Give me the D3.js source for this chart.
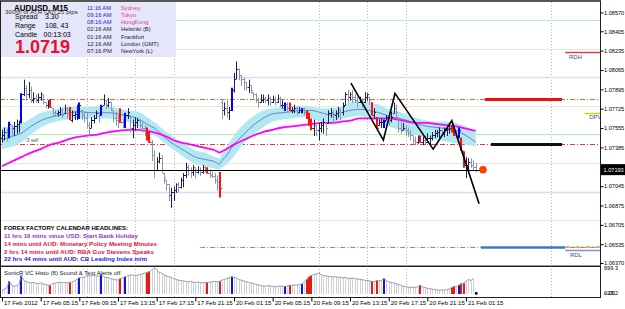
<!DOCTYPE html>
<html><head><meta charset="utf-8">
<script src="https://cdn.jsdelivr.net/npm/d3@7"></script>
<style>
html,body{margin:0;padding:0;background:#fff;overflow:hidden}
svg{display:block;font-family:"Liberation Sans",Arial,sans-serif}
</style></head><body>
<svg id="c" width="625" height="309"></svg>
<script>
// ---------- DATA ----------
const symbolTitle = "AUDUSD, M15";
const highs = [
1.0754,1.0756,1.0755,1.0761,1.0758,1.0761,1.0763,1.0762,1.0786,1.0798,
1.0793,1.0796,1.0792,1.0787,1.0785,1.0786,1.0787,1.0785,1.0778,1.0780,
1.0781,1.0773,1.0771,1.0771,1.0774,1.0773,1.0776,1.0774,1.0774,1.0771,
1.0770,1.0776,1.0778,1.0771,1.0770,1.0769,1.0761,1.0765,1.0767,1.0771,
1.0769,1.0776,1.0785,1.0780,1.0782,1.0778,1.0771,1.0770,1.0767,1.0773,
1.0764,1.0769,1.0773,1.0767,1.0763,1.0765,1.0764,1.0763,1.0761,1.0758,
1.0756,1.0752,1.0745,1.0736,1.0730,1.0734,1.0732,1.0716,1.0710,1.0706,
1.0703,1.0704,1.0707,1.0708,1.0712,1.0716,1.0725,1.0723,1.0721,1.0723,
1.0721,1.0722,1.0721,1.0723,1.0722,1.0721,1.0719,1.0717,1.0716,1.0714,
1.0717,1.0781,1.0778,1.0780,1.0774,1.0791,1.0804,1.0814,1.0808,1.0802,
1.0800,1.0796,1.0798,1.0793,1.0787,1.0786,1.0782,1.0785,1.0785,1.0783,
1.0785,1.0783,1.0784,1.0783,1.0785,1.0783,1.0780,1.0778,1.0778,1.0778,
1.0774,1.0776,1.0774,1.0774,1.0773,1.0773,1.0771,1.0769,1.0764,1.0763,
1.0758,1.0760,1.0761,1.0764,1.0761,1.0771,1.0773,1.0771,1.0771,1.0774,
1.0773,1.0778,1.0787,1.0789,1.0787,1.0789,1.0785,1.0783,1.0783,1.0782,
1.0787,1.0786,1.0783,1.0778,1.0773,1.0765,1.0763,1.0764,1.0763,1.0767,
1.0769,1.0770,1.0778,1.0776,1.0765,1.0761,1.0760,1.0758,1.0756,1.0754,
1.0749,1.0748,1.0749,1.0749,1.0748,1.0749,1.0751,1.0749,1.0752,1.0754,
1.0754,1.0756,1.0754,1.0756,1.0756,1.0758,1.0758,1.0756,1.0754,1.0756,
1.0747,1.0735,1.0730,1.0729,1.0729,1.0727,1.0725];
const lows = [
1.0743,1.0745,1.0744,1.0747,1.0748,1.0749,1.0751,1.0752,1.0760,1.0784,
1.0780,1.0782,1.0778,1.0778,1.0778,1.0778,1.0780,1.0777,1.0773,1.0773,
1.0774,1.0767,1.0766,1.0766,1.0767,1.0765,1.0769,1.0764,1.0763,1.0761,
1.0763,1.0763,1.0764,1.0763,1.0761,1.0756,1.0749,1.0756,1.0760,1.0764,
1.0761,1.0767,1.0776,1.0773,1.0774,1.0771,1.0761,1.0758,1.0756,1.0761,
1.0756,1.0756,1.0764,1.0752,1.0747,1.0754,1.0756,1.0754,1.0752,1.0749,
1.0745,1.0743,1.0727,1.0712,1.0719,1.0725,1.0716,1.0707,1.0701,1.0692,
1.0686,1.0692,1.0699,1.0699,1.0703,1.0704,1.0712,1.0714,1.0712,1.0714,
1.0712,1.0716,1.0714,1.0716,1.0717,1.0716,1.0712,1.0712,1.0707,1.0701,
1.0695,1.0764,1.0767,1.0765,1.0763,1.0771,1.0787,1.0799,1.0798,1.0793,
1.0789,1.0789,1.0787,1.0786,1.0782,1.0778,1.0774,1.0778,1.0778,1.0778,
1.0776,1.0776,1.0778,1.0776,1.0778,1.0774,1.0773,1.0771,1.0770,1.0771,
1.0769,1.0769,1.0767,1.0769,1.0769,1.0767,1.0764,1.0758,1.0754,1.0749,
1.0749,1.0745,1.0752,1.0751,1.0749,1.0760,1.0765,1.0760,1.0763,1.0765,
1.0763,1.0767,1.0776,1.0778,1.0780,1.0778,1.0778,1.0774,1.0778,1.0774,
1.0778,1.0780,1.0776,1.0767,1.0764,1.0756,1.0758,1.0756,1.0756,1.0763,
1.0758,1.0761,1.0769,1.0765,1.0752,1.0751,1.0754,1.0749,1.0748,1.0745,
1.0742,1.0741,1.0742,1.0743,1.0741,1.0741,1.0743,1.0742,1.0745,1.0747,
1.0748,1.0747,1.0749,1.0748,1.0749,1.0751,1.0752,1.0749,1.0747,1.0747,
1.0736,1.0721,1.0712,1.0719,1.0721,1.0719,1.0717];
const closes = [
1.0749,1.0752,1.0750,1.0759,1.0756,1.0757,1.0759,1.0761,1.0785,1.0791,
1.0785,1.0789,1.0780,1.0782,1.0780,1.0783,1.0785,1.0778,1.0776,1.0778,
1.0774,1.0770,1.0769,1.0770,1.0771,1.0767,1.0773,1.0771,1.0763,1.0767,
1.0768,1.0770,1.0776,1.0767,1.0764,1.0758,1.0756,1.0763,1.0764,1.0769,
1.0767,1.0775,1.0780,1.0776,1.0778,1.0773,1.0764,1.0763,1.0761,1.0761,
1.0758,1.0767,1.0770,1.0756,1.0758,1.0761,1.0763,1.0758,1.0756,1.0752,
1.0745,1.0743,1.0732,1.0719,1.0727,1.0729,1.0719,1.0712,1.0706,1.0697,
1.0699,1.0701,1.0706,1.0704,1.0710,1.0714,1.0721,1.0719,1.0717,1.0721,
1.0717,1.0719,1.0717,1.0721,1.0719,1.0716,1.0714,1.0713,1.0710,1.0708,
1.0703,1.0771,1.0773,1.0770,1.0771,1.0789,1.0799,1.0807,1.0802,1.0799,
1.0796,1.0792,1.0793,1.0789,1.0785,1.0780,1.0778,1.0780,1.0782,1.0780,
1.0782,1.0778,1.0780,1.0778,1.0782,1.0776,1.0776,1.0777,1.0773,1.0771,
1.0771,1.0773,1.0770,1.0771,1.0773,1.0770,1.0766,1.0761,1.0756,1.0758,
1.0754,1.0756,1.0758,1.0761,1.0756,1.0769,1.0770,1.0767,1.0769,1.0771,
1.0770,1.0775,1.0785,1.0783,1.0785,1.0783,1.0780,1.0778,1.0780,1.0778,
1.0783,1.0785,1.0780,1.0767,1.0770,1.0756,1.0761,1.0761,1.0762,1.0765,
1.0763,1.0765,1.0773,1.0770,1.0756,1.0754,1.0756,1.0754,1.0751,1.0749,
1.0745,1.0743,1.0745,1.0743,1.0745,1.0743,1.0747,1.0747,1.0749,1.0751,
1.0752,1.0754,1.0752,1.0754,1.0755,1.0756,1.0752,1.0749,1.0748,1.0754,
1.0736,1.0723,1.0723,1.0726,1.0723,1.0721,1.0719];
const firstOpen = 1.0747, mondayIndex = 91, mondayOpen = 1.0778;
const blueBars = [3,8,32,41,51,95,117,124,158,189];
const redBars = [20,28,49,60,61,85,90,119,126,127,128,153,155,173,186,187,190,191];
const volumes = [
100,130,160,330,230,200,220,250,480,350,
320,300,290,300,280,270,290,260,250,230,
230,270,280,300,310,290,300,290,300,320,
340,380,420,430,440,460,480,470,490,460,
470,500,450,430,420,400,380,370,360,400,
420,450,470,490,500,480,490,500,520,540,
560,580,620,680,640,560,540,500,470,450,
430,400,380,360,350,340,330,320,330,310,
300,310,300,290,300,300,310,320,330,320,
330,360,380,400,420,450,430,420,380,360,
340,320,300,290,270,250,240,220,210,200,
220,210,200,190,200,210,200,200,210,230,
220,240,230,250,260,300,380,450,480,500,
520,540,500,480,470,460,450,440,450,430,
440,420,430,410,400,420,400,390,380,370,
360,350,340,330,320,350,340,350,400,350,
320,300,290,270,250,230,200,190,180,170,
180,170,190,230,180,170,150,140,130,120,
110,100,110,100,120,130,170,200,190,230,
270,280,330,380,350,400,20];
const maIdx = [0,4,8,12,16,20,24,28,32,36,40,44,48,52,56,60,64,68,72,76,80,84,88,90,91,92,
96,100,104,108,112,116,120,124,128,132,136,140,144,148,152,156,160,164,168,172,176,180,184,188,192,196];
const dragonHigh = [1.0756,1.0757,1.0759,1.0764,1.0769,1.0771,1.0773,1.0774,1.0774,1.0774,1.0774,1.0774,1.0773,1.0771,1.0770,1.0765,1.0759,1.0752,1.0746,1.0741,1.0736,1.0734,1.0730,1.0729,1.0733,1.0736,
1.0749,1.0759,1.0766,1.0771,1.0773,1.0774,1.0775,1.0775,1.0774,1.0773,1.0773,1.0774,1.0778,1.0780,1.0778,1.0776,1.0772,1.0770,1.0767,1.0764,1.0762,1.0761,1.0761,1.0760,1.0757,1.0752];
const dragonMid = [1.0745,1.0748,1.0751,1.0757,1.0762,1.0765,1.0767,1.0769,1.0770,1.0769,1.0769,1.0769,1.0768,1.0766,1.0764,1.0759,1.0754,1.0746,1.0740,1.0735,1.0730,1.0728,1.0726,1.0724,1.0727,1.0729,
1.0741,1.0750,1.0758,1.0764,1.0768,1.0769,1.0770,1.0771,1.0771,1.0769,1.0767,1.0769,1.0771,1.0772,1.0771,1.0769,1.0766,1.0764,1.0762,1.0759,1.0757,1.0756,1.0755,1.0753,1.0749,1.0743];
const dragonLow = [1.0737,1.0739,1.0743,1.0750,1.0756,1.0760,1.0762,1.0763,1.0764,1.0764,1.0764,1.0764,1.0763,1.0761,1.0757,1.0753,1.0748,1.0741,1.0735,1.0729,1.0724,1.0722,1.0720,1.0719,1.0721,1.0722,
1.0731,1.0742,1.0750,1.0756,1.0761,1.0763,1.0764,1.0765,1.0764,1.0761,1.0760,1.0763,1.0765,1.0766,1.0764,1.0761,1.0757,1.0754,1.0751,1.0749,1.0747,1.0745,1.0744,1.0742,1.0741,1.0739];
const trendMA = [1.0722,1.0726,1.0730,1.0734,1.0737,1.0741,1.0743,1.0746,1.0748,1.0749,1.0750,1.0752,1.0753,1.0754,1.0754,1.0753,1.0751,1.0748,1.0744,1.0742,1.0740,1.0738,1.0736,1.0734,1.0735,1.0736,
1.0741,1.0745,1.0749,1.0752,1.0754,1.0756,1.0757,1.0758,1.0759,1.0760,1.0760,1.0761,1.0762,1.0764,1.0764,1.0764,1.0764,1.0763,1.0761,1.0760,1.0760,1.0759,1.0758,1.0757,1.0755,1.0753];
const zigzagIdx = [144.4,157.8,162.6,178.4,186.1,197.4];
const zigzagPrice = [1.0795,1.0745,1.0786,1.0737,1.0762,1.0689];
const priceTicks = [1.0857,1.08405,1.08235,1.08065,1.07895,1.07725,1.07555,1.07385,1.07215,1.07045,1.06875,1.06705,1.06535,1.0637];
const timeIdx = [0,16,32,48,64,80,96,112,128,144,160,176,192];
const timeLabels = ["17 Feb 2012","17 Feb 05:15","17 Feb 09:15","17 Feb 13:15","17 Feb 17:15","17 Feb 21:15",
"20 Feb 01:15","20 Feb 05:15","20 Feb 09:15","20 Feb 13:15","20 Feb 17:15","20 Feb 21:15","21 Feb 01:15"];
const sessionIdx = [35,55,71,131,151,167,227];
const levelPrices = [1.08504,1.08250,1.08004,1.07811,1.07749,1.07503,1.07416,1.07249,1.06994,1.06748,1.06511];
const levelKinds = ["green","beige","lavender","orangeDash","beige","green","redDash","beige","lavender","beige","greenDash"];
const currentPrice = 1.0719, bidLabel = "1.07193";
const rdh = 1.08223, rdl = 1.06485, dpv = 1.07688;
const targetRed = 1.07811, targetBlack = 1.07416, targetBlue = 1.06511;
const volTicks = [699.3, -23.2, 0];
const infoRows = [["Spread","3.30"],["Range","108, 43"],["Candle","00:13:03"]];
const infoPrice = "1.0719";
const atrNote = "300% of ATR (20)     25 pips";
const sessionTimes = ["11:16 AM","09:16 AM","08:16 AM","02:16 AM","01:16 AM","12:16 AM","07:16 PM"];
const sessionCities = ["Sydney","Tokyo","HongKong","Helsinki  (B)","Frankfurt","London  (GMT)","NewYork  (L)"];
const newsLines = ["FOREX FACTORY CALENDAR HEADLINES:",
"11 hrs 16 mins since USD: Start Bank Holiday",
"14 mins until AUD: Monetary Policy Meeting Minutes",
"2 hrs 14 mins until AUD: RBA Gov Stevens Speaks",
"22 hrs 44 mins until AUD: CB Leading Index m/m"];
const histoTitle = "SonicR VC Histo  (8)    Sound & Text Alerts off.";
const signalText = "-3 sell";

// ---------- DRAW ----------
const svg = d3.select("#c");
svg.append("rect").attr("width",625).attr("height",309).attr("fill","#fff");
const x = d3.scaleLinear().domain([0,196]).range([2,475.7]);
const y = d3.scaleLinear().domain([1.0637,1.0857]).range([263,12.5]);
const vy = d3.scaleLinear().domain([-23.2,699.3]).range([295,267]);
const px = i => Math.round(x(i)) + 0.5;
const py = p => Math.round(y(p)) + 0.5;
const R = 600; // right edge of plot

const defs = svg.append("defs");
defs.append("clipPath").attr("id","mainclip").append("rect").attr("x",1).attr("y",2).attr("width",R-1).attr("height",263);

// session dotted verticals
const g0 = svg.append("g");
sessionIdx.forEach(i=>{
  g0.append("line").attr("x1",px(i)).attr("x2",px(i)).attr("y1",2).attr("y2",297)
    .attr("stroke","#b4b4b4").attr("stroke-dasharray","1,2");
});

const main = svg.append("g").attr("clip-path","url(#mainclip)");
const kindStyle = {
  green:{c:"#b6eeb6",w:1.2,d:null},
  beige:{c:"#ece6d6",w:1.2,d:null},
  lavender:{c:"#dcdcf6",w:1.5,d:null},
  orangeDash:{c:"#f0602a",w:1,d:"5,2,1,2"},
  redDash:{c:"#d84040",w:1,d:"5,2,1,2"},
  greenDash:{c:"#4cc04c",w:1,d:"5,2,1,2"}
};
levelPrices.forEach((p,k)=>{
  const s = kindStyle[levelKinds[k]];
  let x1 = 0;
  if (k<2) x1 = 176;
  if (levelKinds[k]==="greenDash") x1 = x(82);
  const ln = main.append("line").attr("x1",x1).attr("x2",R).attr("y1",py(p)).attr("y2",py(p))
    .attr("stroke",s.c).attr("stroke-width",s.w);
  if (s.d) ln.attr("stroke-dasharray",s.d);
});
// orange dash near RDL
main.append("line").attr("x1",x(233)).attr("x2",R).attr("y1",py(targetBlue)-0.5).attr("y2",py(targetBlue)-0.5)
  .attr("stroke","#f0602a").attr("stroke-dasharray","5,2,1,2");

// Dragon band
const band = d3.area().x((d,k)=>x(maIdx[k])).y0((d,k)=>y(dragonLow[k])).y1((d,k)=>y(dragonHigh[k])).curve(d3.curveMonotoneX);
main.append("path").datum(maIdx).attr("d",band).attr("fill","#b2e8f0");
const midLine = d3.line().x((d,k)=>x(maIdx[k])).y((d,k)=>y(dragonMid[k])).curve(d3.curveMonotoneX);
main.append("path").datum(maIdx).attr("d",midLine).attr("fill","none").attr("stroke","#6f80cc").attr("stroke-width",1);
const trLine = d3.line().x((d,k)=>x(maIdx[k])).y((d,k)=>y(trendMA[k])).curve(d3.curveMonotoneX);
main.append("path").datum(maIdx).attr("d",trLine).attr("fill","none").attr("stroke","#ff00ff").attr("stroke-width",1.8);

// bars
const blueSet = new Set(blueBars), redSet = new Set(redBars);
const opens = closes.map((c,i)=>{
  let o = i===0 ? firstOpen : (i===mondayIndex ? mondayOpen : closes[i-1]);
  return Math.max(lows[i], Math.min(highs[i], o));
});
const gb = main.append("g");
closes.forEach((c,i)=>{
  const xi = px(i);
  let col = c>=opens[i] ? "#1e1e5c" : "#8a94b4";
  let w = 1;
  if (blueSet.has(i)) { col = "#0000ff"; w = 2; }
  if (redSet.has(i)) { col = "#ff1010"; w = 2; }
  const xx = w===2 ? Math.round(x(i)) : xi;
  gb.append("line").attr("x1",xx).attr("x2",xx).attr("y1",y(highs[i])).attr("y2",y(lows[i])+0.5)
    .attr("stroke",col).attr("stroke-width",w);
  gb.append("line").attr("x1",xi-1.5).attr("x2",xi).attr("y1",py(opens[i])).attr("y2",py(opens[i])).attr("stroke",col);
  gb.append("line").attr("x1",xi).attr("x2",xi+1.5).attr("y1",py(c)).attr("y2",py(c)).attr("stroke",col);
});

// zigzag
const zz = d3.line().x((d,k)=>x(zigzagIdx[k])).y((d,k)=>y(zigzagPrice[k]));
main.append("path").datum(zigzagIdx).attr("d",zz).attr("fill","none").attr("stroke","#000").attr("stroke-width",1.6);

// current price line + dot
main.append("line").attr("x1",0).attr("x2",x(199)).attr("y1",py(currentPrice)).attr("y2",py(currentPrice)).attr("stroke","#000");
main.append("circle").attr("cx",x(199)).attr("cy",y(currentPrice)).attr("r",3.5).attr("fill","#ff4000").attr("stroke","#d03000").attr("stroke-width",0.6);

// target thick lines
main.append("line").attr("x1",x(199.8)).attr("x2",x(231.7)).attr("y1",py(targetRed)).attr("y2",py(targetRed)).attr("stroke","#f01010").attr("stroke-width",3);
main.append("line").attr("x1",x(202.3)).attr("x2",x(231.7)).attr("y1",py(targetBlack)).attr("y2",py(targetBlack)).attr("stroke","#111").attr("stroke-width",3);
main.append("line").attr("x1",x(198.2)).attr("x2",x(233)).attr("y1",py(targetBlue)).attr("y2",py(targetBlue)).attr("stroke","#3a78c8").attr("stroke-width",2.5);
// RDH / RDL / DPV
main.append("line").attr("x1",x(233)).attr("x2",R).attr("y1",py(rdh)).attr("y2",py(rdh)).attr("stroke","#e84040").attr("stroke-width",1.5);
main.append("text").attr("x",x(234.6)).attr("y",y(rdh)+7).attr("font-size",6).attr("fill","#4848a0").text("RDH");
main.append("line").attr("x1",x(233)).attr("x2",R).attr("y1",py(rdl)).attr("y2",py(rdl)).attr("stroke","#8c8ce0").attr("stroke-width",1.5);
main.append("text").attr("x",x(235)).attr("y",y(rdl)+7).attr("font-size",6).attr("fill","#4848a0").text("RDL");
main.append("line").attr("x1",x(241)).attr("x2",R).attr("y1",py(dpv)).attr("y2",py(dpv)).attr("stroke","#e0d000").attr("stroke-width",1.5);
main.append("text").attr("x",x(243)).attr("y",y(dpv)+6.5).attr("font-size",6).attr("fill","#4848a0").text("DPV");
// signal text
main.append("text").attr("x",x(9.5)).attr("y",y(1.0743)).attr("font-size",5).attr("fill","#505050").text(signalText);

// info box
svg.append("rect").attr("x",1).attr("y",2).attr("width",175).attr("height",55).attr("fill","#e6e6fa");
svg.append("text").attr("x",14).attr("y",10.5).attr("font-size",8.5).attr("font-weight","bold").attr("textLength",54).attr("lengthAdjust","spacingAndGlyphs").text(symbolTitle);
svg.append("text").attr("x",5).attr("y",13.5).attr("font-size",4.8).attr("fill","#303030").attr("textLength",73).attr("lengthAdjust","spacingAndGlyphs").text(atrNote);
infoRows.forEach((r,k)=>{
  const yy = [19,28,37][k];
  svg.append("text").attr("x",15).attr("y",yy).attr("font-size",7).text(r[0]);
  svg.append("text").attr("x",k===2?43.5:45).attr("y",yy).attr("font-size",7).text(r[1]);
});
svg.append("text").attr("x",15).attr("y",53).attr("font-size",18).attr("font-weight","bold").attr("fill","#e8102a").text(infoPrice);
sessionTimes.forEach((t,k)=>{
  const yy = 9.5 + k*7.25;
  svg.append("text").attr("x",87).attr("y",yy).attr("font-size",5.8).attr("fill",k<3?"#2424c8":"#202040").text(t);
  svg.append("text").attr("x",121).attr("y",yy).attr("font-size",5.8).attr("fill",k<3?"#e0407a":"#202040").text(sessionCities[k]);
});

// news block
const newsColors = ["#000","#9a30d0","#e0103c","#e0103c","#1c1cd8"];
const newsW = [124,134,153,150,143];
newsLines.forEach((t,k)=>{
  svg.append("text").attr("x",4).attr("y",230.3+k*7.75).attr("font-size",6).attr("font-weight","bold")
    .attr("fill",newsColors[k]).attr("textLength",newsW[k]).attr("lengthAdjust","spacingAndGlyphs").text(t);
});

// panel borders
svg.append("line").attr("x1",0).attr("x2",R).attr("y1",265.5).attr("y2",265.5).attr("stroke","#9a9a9a");
svg.append("line").attr("x1",0).attr("x2",R).attr("y1",266.5).attr("y2",266.5).attr("stroke","#202020");
svg.append("line").attr("x1",0).attr("x2",R+1).attr("y1",297.5).attr("y2",297.5).attr("stroke","#202020");
svg.append("line").attr("x1",0).attr("x2",R+1).attr("y1",1).attr("y2",1).attr("stroke","#202020").attr("stroke-width",1.5);
svg.append("line").attr("x1",0.5).attr("x2",0.5).attr("y1",1).attr("y2",298).attr("stroke","#202020");
svg.append("line").attr("x1",R+0.5).attr("x2",R+0.5).attr("y1",1).attr("y2",298).attr("stroke","#202020");

// histogram panel
const gh = svg.append("g");
volumes.forEach((v,i)=>{
  let col = "#cdd2d8", w = 1, xx = px(i);
  if (blueSet.has(i)) { col = "#1010e0"; w = 2; xx = Math.round(x(i)); }
  if (redSet.has(i)) { col = "#e81818"; w = 2; xx = Math.round(x(i)); }
  if (i===volumes.length-1) {
    gh.append("rect").attr("x",Math.round(x(i))-1).attr("y",vy(0)-2).attr("width",2.5).attr("height",2.5).attr("fill","#000");
    return;
  }
  gh.append("line").attr("x1",xx).attr("x2",xx).attr("y1",vy(0)).attr("y2",vy(v)).attr("stroke",col).attr("stroke-width",w);
});
const vl = d3.line().x((d,i)=>x(i)).y(d=>vy(d));
gh.append("path").datum(volumes.slice(0,-1)).attr("d",vl).attr("fill","none").attr("stroke","#8e949c").attr("stroke-width",0.9);
svg.append("text").attr("x",4).attr("y",275).attr("font-size",5.6).attr("fill","#202020").attr("textLength",118).attr("lengthAdjust","spacingAndGlyphs").text(histoTitle);

// right price axis
const ya = d3.axisRight(y).tickValues(priceTicks).tickSize(3).tickFormat(d3.format(".5f"));
const gya = svg.append("g").attr("transform",`translate(${R+0.5},0)`).call(ya);
gya.select(".domain").remove();
gya.selectAll("text").attr("font-size",5.6).attr("font-family","Liberation Sans, Arial, sans-serif").attr("fill","#000").attr("x",3.5);
gya.selectAll("line").attr("stroke","#000");
// bid box
svg.append("rect").attr("x",R+1).attr("y",y(currentPrice)-5.5).attr("width",24).attr("height",11).attr("fill","#000");
svg.append("text").attr("x",R+3.5).attr("y",y(currentPrice)+2).attr("font-size",5.6).attr("fill","#fff").text(bidLabel);

// volume axis labels
const va = d3.axisRight(vy).tickValues(volTicks).tickSize(0).tickFormat(d=>d===0?"0.00":d3.format(".1f")(d));
const gva = svg.append("g").attr("transform",`translate(${R+0.5},0)`).call(va);
gva.select(".domain").remove();
gva.selectAll("text").attr("font-size",5.6).attr("font-family","Liberation Sans, Arial, sans-serif").attr("fill","#000").attr("x",3.5);
gva.selectAll(".tick").filter(d=>d!==699.3).attr("transform",`translate(0,${vy(0)-0.5})`);
gva.selectAll(".tick").filter(d=>d===699.3).attr("transform",`translate(0,${vy(699.3)+1})`);

// time axis
const xa = d3.axisBottom(x).tickValues(timeIdx).tickSize(4).tickFormat((d,k)=>timeLabels[k]);
const gxa = svg.append("g").attr("transform","translate(0,297.5)").call(xa);
gxa.select(".domain").remove();
gxa.selectAll("line").attr("stroke","#000");
gxa.selectAll("text").attr("font-size",6).attr("font-family","Liberation Sans, Arial, sans-serif").attr("fill","#000")
  .attr("text-anchor","start").attr("x",1.5).attr("y",3).attr("dy","0.75em");
</script>
</body></html>
